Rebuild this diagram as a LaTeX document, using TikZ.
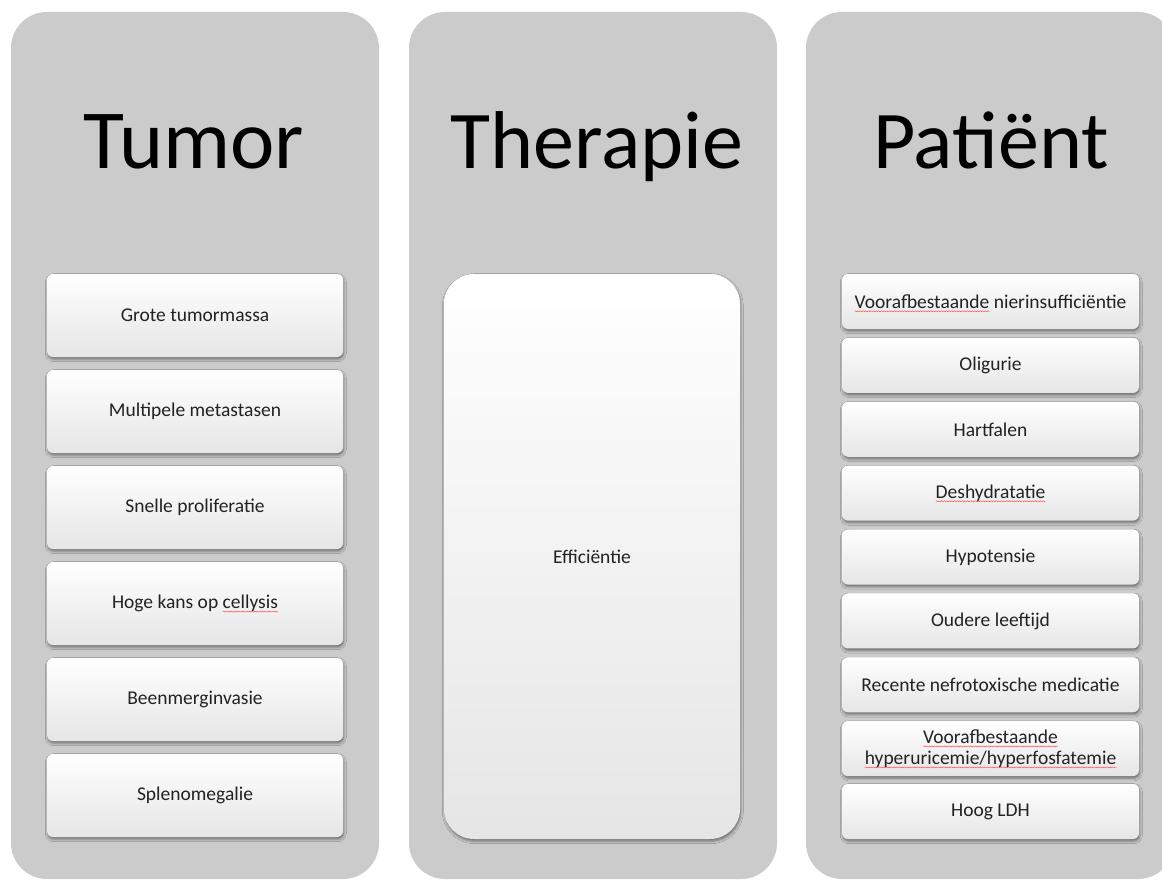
\documentclass[tikz,border=0pt]{standalone}
\usepackage{fontspec}
\setmainfont{Carlito}
\usetikzlibrary{shadows.blur,decorations.pathmorphing}
\newsavebox\sqbox
\newlength\sqlen
\makeatletter
\newcommand\sq[1]{\sbox\sqbox{#1}\setlength\sqlen{\wd\sqbox}\rlap{\tikz[baseline=0pt]{\let\tikz@preactions\pgfutil@empty\let\tikz@postactions\pgfutil@empty\useasboundingbox (0pt,0pt);\draw[sharp corners, red!70, line width=0.45pt, line cap=round, decorate, decoration={snake, amplitude=0.55pt, segment length=2.6pt}] (0pt,-3pt) -- (\sqlen,-3pt);}}\usebox\sqbox\relax}
\makeatother
\definecolor{colgray}{HTML}{CBCBCB}
\definecolor{itemtext}{HTML}{222222}
\tikzset{
  column/.style={fill=colgray, rounded corners=36pt, minimum width=368pt, minimum height=867pt, inner sep=0pt},
  coltitle/.style={anchor=base, font=\fontsize{82}{90}\selectfont, text=black, inner sep=0pt},
  itembox/.style={rounded corners=6pt, top color=white, middle color=white, bottom color=black!10,
    blur shadow={shadow xshift=0.8pt, shadow yshift=-2.2pt, shadow blur radius=2.5pt, shadow opacity=45},
    minimum width=296pt, inner sep=0pt, align=center, text=itemtext,
    font=\fontsize{19.5}{21}\selectfont},
  bigbox/.style={itembox, minimum height=83pt},
  smallbox/.style={itembox, minimum width=297pt, minimum height=55pt},
}
\begin{document}
\begin{tikzpicture}[x=1pt,y=-1pt]
\useasboundingbox (0,0) rectangle (1162,880);
\clip (0,0) rectangle (1162,880);
% columns
\node[column] (colT) at (195,445.5) {};
\node[column] (colH) at (593,445.5) {};
\node[column] (colP) at (990,445.5) {};
% titles
\node[coltitle, font=\fontsize{84}{90}\selectfont] (tT) at (194,168) {Tumor};
\node[coltitle] (tH) at (597,168) {Therapie};
\node[coltitle] (tP) at (991,168) {Patiënt};
% tumor items
\node[bigbox] (a1) at (195,315.5) {Grote tumormassa};
\node[bigbox] (a2) at (195,411.5) {Multipele metastasen};
\node[bigbox] (a3) at (195,507.5) {Snelle proliferatie};
\node[bigbox] (a4) at (195,603.5) {Hoge kans op \sq{cellysis}};
\node[bigbox] (a5) at (195,699.5) {Beenmerginvasie};
\node[bigbox] (a6) at (195,795.5) {Splenomegalie};
% therapie
\node[itembox, rounded corners=30pt, minimum width=296pt, minimum height=565pt] (b1) at (592,556.5) {Efficiëntie};
% patient items
\node[smallbox] (c1) at (990.5,301.5) {\sq{Voorafbestaande} nierinsufficiëntie};
\node[smallbox] (c2) at (990.5,365.4) {Oligurie};
\node[smallbox] (c3) at (990.5,429.3) {Hartfalen};
\node[smallbox] (c4) at (990.5,493.1) {\sq{Deshydratatie}};
\node[smallbox] (c5) at (990.5,557.0) {Hypotensie};
\node[smallbox] (c6) at (990.5,620.9) {Oudere leeftijd};
\node[smallbox] (c7) at (990.5,684.8) {Recente nefrotoxische medicatie};
\node[smallbox] (c8) at (990.5,748.6) {\sq{Voorafbestaande}\\\sq{hyperuricemie/}\sq{hyperfosfatemie}};
\node[smallbox] (c9) at (990.5,811.5) {Hoog LDH};
\end{tikzpicture}
\end{document}
